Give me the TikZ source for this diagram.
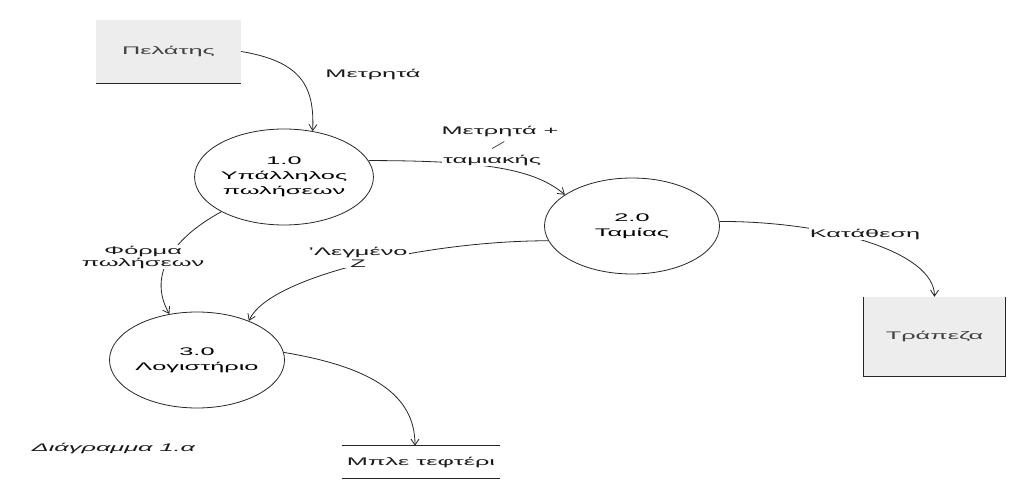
\documentclass[tikz,border=0pt]{standalone}
\usepackage{fontspec}
\setmainfont{Liberation Sans}[FakeStretch=2.3]
\usetikzlibrary{shapes.geometric,arrows.meta}
\begin{document}
\begin{tikzpicture}[x=1pt,y=-1pt,
  font=\fontsize{11}{15}\selectfont,
  proc/.style={ellipse, draw=black!85, line width=0.8pt, minimum width=175pt,
    minimum height=96pt, inner sep=0pt, align=center, text=black},
  ext/.style={rectangle, fill=black!7, inner sep=0pt, text=black!75},
  store/.style={rectangle, inner sep=0pt, minimum width=158pt, minimum height=32pt, text=black!90},
  edgeline/.style={draw=black!85, line width=0.8pt},
  flow/.style={draw=black!85, line width=0.8pt, -{Straight Barb[length=6pt,width=8pt]}},
  lbl/.style={fill=white, inner sep=1pt, align=center, text=black!90},
  freelbl/.style={inner sep=1pt, align=center, text=black!90}]
\useasboundingbox (0,0) rectangle (1010,486);

% external entities
\node[ext, minimum width=145pt, minimum height=63pt] (pel) at (168.5,51.5) {Πελάτης};
\draw[edgeline] (pel.south west) -- (pel.south east);
\node[ext, minimum width=141pt, minimum height=79pt] (tra) at (934.5,336.5) {Τράπεζα};
\draw[edgeline] (tra.north west) -- (tra.south west) -- (tra.south east) -- (tra.north east);

% data store
\node[store] (mpl) at (421,462) {Μπλε τεφτέρι};
\draw[edgeline] (mpl.north west) -- (mpl.north east);
\draw[edgeline] (mpl.south west) -- (mpl.south east);

% processes
\node[proc] (p1) at (284,177) {1.0\\Υπάλληλος\\πωλήσεων};
\node[proc] (p2) at (632,226) {2.0\\Ταμίας};
\node[proc] (p3) at (197,360) {3.0\\Λογιστήριο};

% flows
\draw[flow] (pel.east) .. controls +(60,10) and +(2,-45) .. (p1.58);
\draw[flow] (p1.11) .. controls +(120,0) and +(-30,-25) .. (p2.155);
\draw[flow] (p2.3) .. controls +(110,0) and +(0,-45) .. (tra.north);
\draw[flow] (p1.209) .. controls +(-55,30) and +(-20,-35) .. (p3.121);
\draw[flow] (p2.190) .. controls +(-120,0) and +(20,-45) .. (p3.37);
\draw[flow] (p3.5) .. controls +(90,15) and +(0,-50) .. ([xshift=-6pt]mpl.north);

% labels
\node[freelbl] (l1) at (373,75) {Μετρητά};
\node[freelbl] (l2a) at (500,131) {Μετρητά +};
\node[freelbl, rotate=30, inner sep=0pt] (l2b) at (499,147) {–};
\node[lbl] (l2c) at (492,160) {ταμιακής};
\node[lbl] (l3) at (865,234) {Κατάθεση};
\node[lbl] (l4) at (143,257) {Φόρμα\\[-3pt]πωλήσεων};
\node[lbl] (l5) at (358,257) {'Λεγμένο\\[-3pt]Z};
\node[freelbl, font=\fontsize{11}{15}\selectfont\itshape] (title) at (113.5,448) {Διάγραμμα 1.α};
\end{tikzpicture}
\end{document}
